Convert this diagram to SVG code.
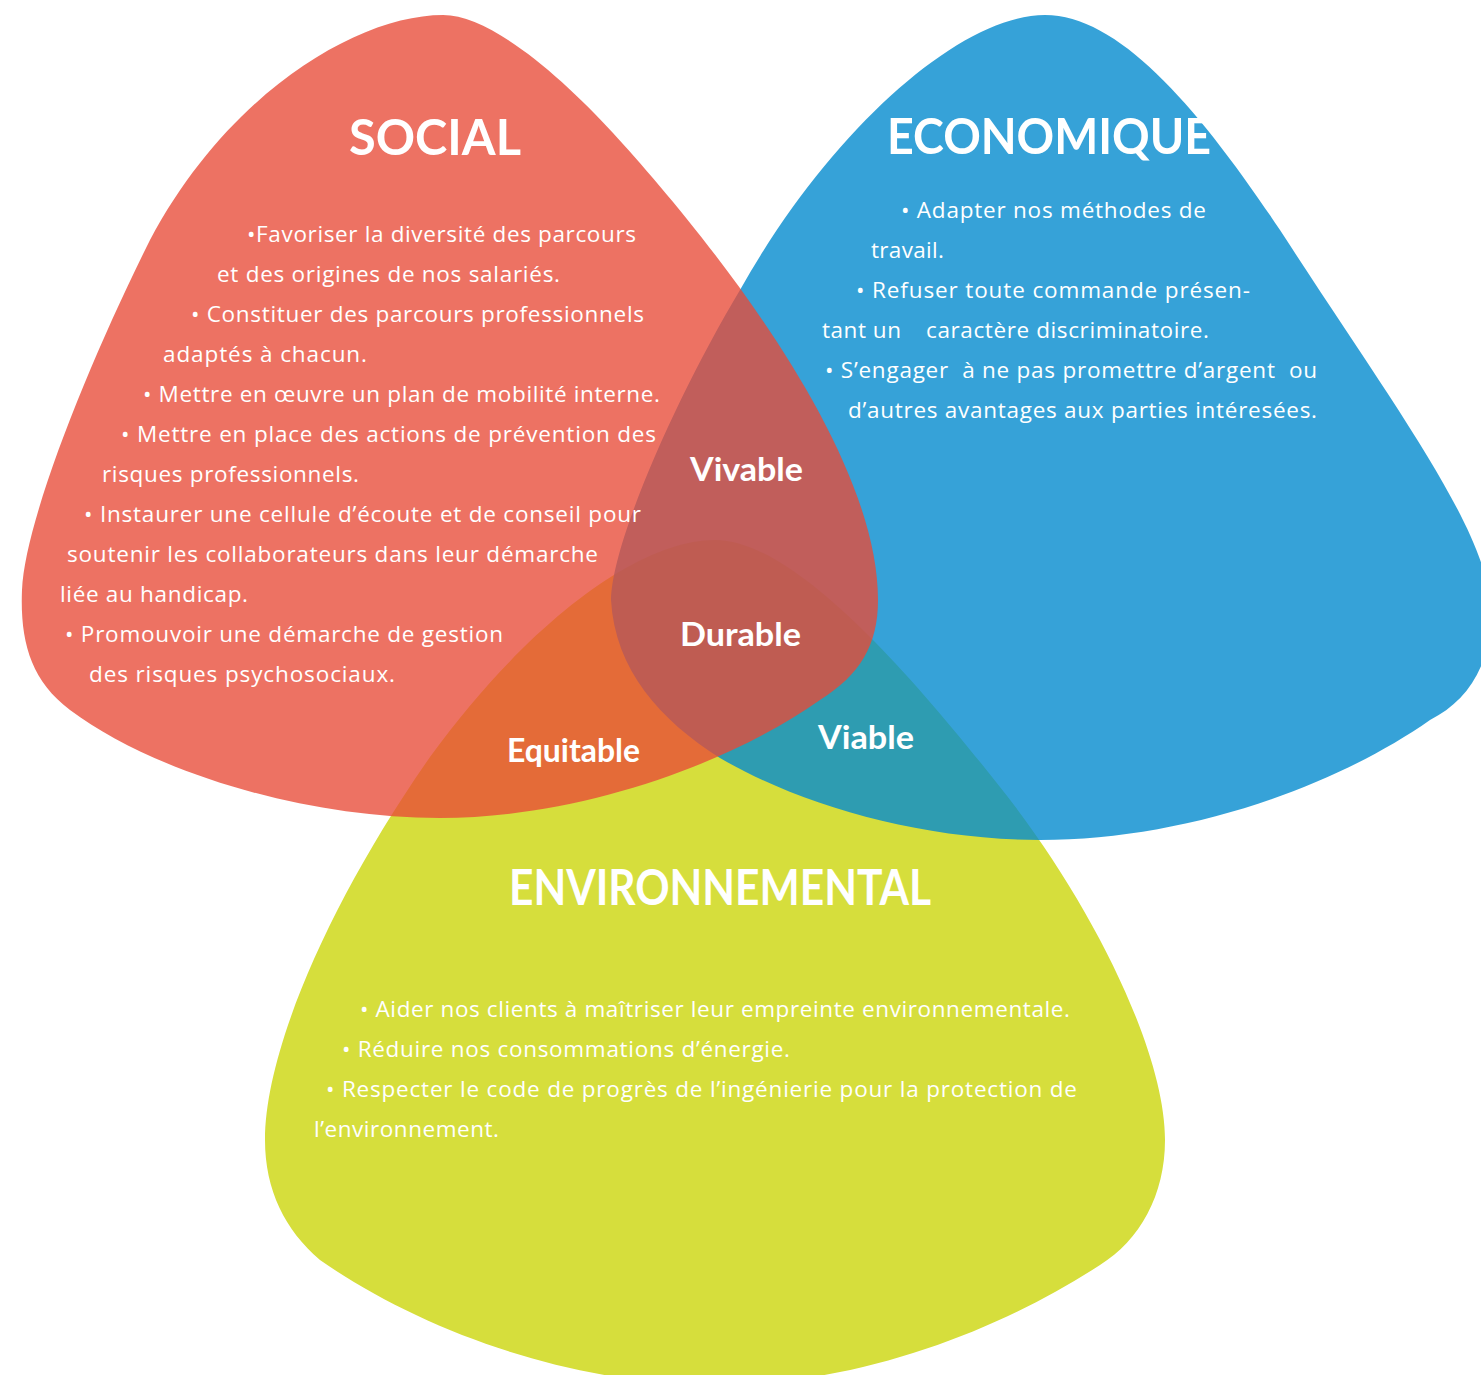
<svg xmlns="http://www.w3.org/2000/svg" width="1481" height="1375" viewBox="0 0 1481 1375">
<style>
.t{fill:#fff;}
.body{font-family:"Open Sans",Lato,"Liberation Sans",sans-serif;font-size:22.5px;font-weight:400;}
.title{font-family:Lato,"Open Sans","Liberation Sans",sans-serif;font-size:50px;font-weight:700;}
.lab{font-family:Lato,"Open Sans","Liberation Sans",sans-serif;font-size:32px;font-weight:700;}
</style>
<rect width="1481" height="1375" fill="#fff"/>
<g id="environnemental">
<path fill="#D6DE3C" d="M 715 540 C 790 540 900 660 1000 787 C 1090 900 1165 1050 1165 1140 C 1165 1195 1140 1240 1100 1265 C 1000 1330 860 1385 715 1385 C 570 1385 420 1330 320 1260 C 285 1230 265 1190 265 1140 C 265 1050 330 900 430 757 C 530 620 640 540 715 540 Z"/>
<text class="t title" x="509" y="905" textLength="422" lengthAdjust="spacingAndGlyphs">ENVIRONNEMENTAL</text>
<text class="t body" x="360" y="1017" textLength="710" lengthAdjust="spacing">• Aider nos clients à maîtriser leur empreinte environnementale.</text>
<text class="t body" x="342" y="1057" textLength="448" lengthAdjust="spacing">• Réduire nos consommations d’énergie.</text>
<text class="t body" x="326" y="1097" textLength="751" lengthAdjust="spacing">• Respecter le code de progrès de l’ingénierie pour la protection de</text>
<text class="t body" x="314" y="1137" textLength="185" lengthAdjust="spacing">l’environnement.</text>
</g>
<g id="economique">
<path fill="#048BCE" fill-opacity="0.8" d="M 1045 15 C 1120 15 1200 110 1280 230 C 1390 400 1481 520 1490 600 C 1495 660 1470 700 1430 720 C 1330 790 1180 840 1040 840 C 920 840 800 805 720 758 C 660 720 615 670 611 600 C 612 540 680 390 740 290 C 830 130 960 15 1045 15 Z"/>
<text class="t title" x="887" y="154" textLength="324" lengthAdjust="spacingAndGlyphs">ECONOMIQUE</text>
<text class="t body" x="901" y="218" textLength="305" lengthAdjust="spacing">• Adapter nos méthodes de</text>
<text class="t body" x="871" y="258" textLength="73" lengthAdjust="spacing">travail.</text>
<text class="t body" x="856" y="298" textLength="394" lengthAdjust="spacing">• Refuser toute commande présen-</text>
<text class="t body" x="822" y="338" textLength="79" lengthAdjust="spacing">tant un</text>
<text class="t body" x="926" y="338" textLength="283" lengthAdjust="spacing">caractère discriminatoire.</text>
<text class="t body" x="825" y="378" textLength="492" lengthAdjust="spacing" xml:space="preserve">• S’engager  à ne pas promettre d’argent  ou</text>
<text class="t body" x="848" y="418" textLength="469" lengthAdjust="spacing">d’autres avantages aux parties intéresées.</text>
</g>
<g id="social">
<path fill="#E84A37" fill-opacity="0.78" d="M 443 15 C 490 15 560 75 613 133 C 690 217 878 440 878 600 C 878 645 860 675 820 700 C 720 770 570 818 440 818 C 300 818 150 770 70 710 C 30 680 20 640 22 590 C 25 520 90 360 150 240 C 230 90 360 15 443 15 Z"/>
<text class="t title" x="349" y="155" textLength="172" lengthAdjust="spacingAndGlyphs">SOCIAL</text>
<text class="t body" x="247" y="242" textLength="389" lengthAdjust="spacing">•Favoriser la diversité des parcours</text>
<text class="t body" x="217" y="282" textLength="343" lengthAdjust="spacing">et des origines de nos salariés.</text>
<text class="t body" x="191" y="322" textLength="453" lengthAdjust="spacing">• Constituer des parcours professionnels</text>
<text class="t body" x="163" y="362" textLength="204" lengthAdjust="spacing">adaptés à chacun.</text>
<text class="t body" x="143" y="402" textLength="517" lengthAdjust="spacing">• Mettre en œuvre un plan de mobilité interne.</text>
<text class="t body" x="121" y="442" textLength="535" lengthAdjust="spacing">• Mettre en place des actions de prévention des</text>
<text class="t body" x="102" y="482" textLength="257" lengthAdjust="spacing">risques professionnels.</text>
<text class="t body" x="84" y="522" textLength="557" lengthAdjust="spacing">• Instaurer une cellule d’écoute et de conseil pour</text>
<text class="t body" x="67" y="562" textLength="531" lengthAdjust="spacing">soutenir les collaborateurs dans leur démarche</text>
<text class="t body" x="60" y="602" textLength="188" lengthAdjust="spacing">liée au handicap.</text>
<text class="t body" x="65" y="642" textLength="438" lengthAdjust="spacing">• Promouvoir une démarche de gestion</text>
<text class="t body" x="89" y="682" textLength="306" lengthAdjust="spacing">des risques psychosociaux.</text>
</g>
<g id="vivable"><text class="t lab" x="690" y="481" textLength="113" lengthAdjust="spacingAndGlyphs">Vivable</text></g>
<g id="durable"><text class="t lab" x="680" y="646" textLength="121" lengthAdjust="spacingAndGlyphs">Durable</text></g>
<g id="viable"><text class="t lab" x="818" y="749" textLength="96" lengthAdjust="spacingAndGlyphs">Viable</text></g>
<g id="equitable"><text class="t lab" x="507" y="762" textLength="133" lengthAdjust="spacingAndGlyphs">Equitable</text></g>
</svg>
